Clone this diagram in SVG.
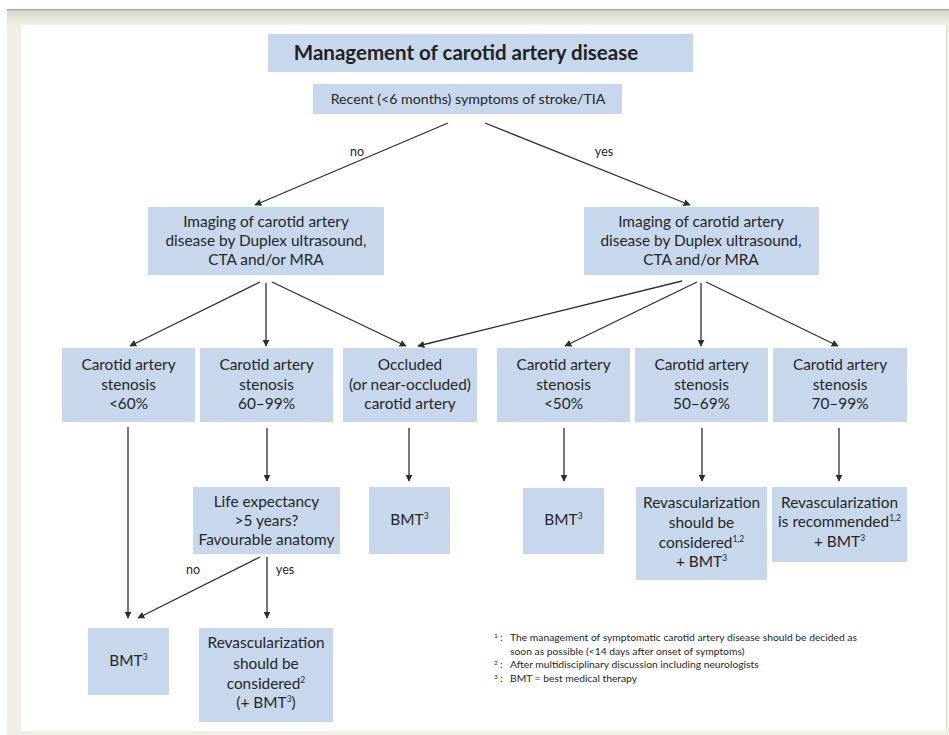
<svg xmlns="http://www.w3.org/2000/svg" width="949" height="735" viewBox="0 0 949 735">
  <defs>
    <marker id="arrow" viewBox="0 0 10 10" refX="9" refY="5" markerWidth="7" markerHeight="7" markerUnits="userSpaceOnUse" orient="auto">
      <path d="M0,0 L10,5 L0,10 z" fill="#2e2e2e"/>
    </marker>
    <linearGradient id="topShade" x1="0" y1="0" x2="0" y2="1">
      <stop offset="0" stop-color="#9c9c96"/>
      <stop offset="0.15" stop-color="#d8d8d0"/>
      <stop offset="1" stop-color="#f1f0e4"/>
    </linearGradient>
  </defs>
  <style>
    .box { fill: #c8d8ec; }
    .t { font-family: "Lato", "Liberation Sans", sans-serif; font-size: 15.4px; fill: #262626; text-anchor: middle; }
    .t14 { font-size: 14.2px; }
    .title { font-family: "Lato", "Liberation Sans", sans-serif; font-size: 20.5px; font-weight: bold; fill: #222; text-anchor: middle; }
    .lbl { font-family: "Lato", "Liberation Sans", sans-serif; font-size: 12.5px; fill: #262626; text-anchor: middle; }
    .fn { font-family: "Lato", "Liberation Sans", sans-serif; font-size: 10.3px; fill: #262626; }
    .sup { font-size: 8.5px; }
    .con line { stroke: #2e2e2e; stroke-width: 1.3; marker-end: url(#arrow); }
  </style>

  <!-- page frame -->
  <rect x="0" y="0" width="949" height="735" fill="#ffffff"/>
  <rect x="7" y="9" width="942" height="726" fill="#f1f0e4"/>
  <rect x="7" y="9" width="942" height="16" fill="url(#topShade)"/>
  <rect x="21" y="25" width="925" height="706" fill="#ffffff"/>
  <line x1="946.5" y1="25" x2="946.5" y2="731" stroke="#e2e1d6" stroke-width="1"/>

  <!-- nodes -->
  <g id="title">
    <rect class="box" x="268" y="34" width="425" height="38"/>
    <text class="title" x="466" y="60">Management of carotid artery disease</text>
  </g>
  <g id="recent">
    <rect class="box" x="313" y="84" width="309" height="30"/>
    <text class="t t14" x="468" y="104">Recent (&lt;6 months) symptoms of stroke/TIA</text>
  </g>
  <g id="imaging-no">
    <rect class="box" x="148" y="207" width="236" height="68"/>
    <text class="t" x="266" y="227">Imaging of carotid artery</text>
    <text class="t" x="266" y="246">disease by Duplex ultrasound,</text>
    <text class="t" x="266" y="265">CTA and/or MRA</text>
  </g>
  <g id="imaging-yes">
    <rect class="box" x="584" y="207" width="235" height="68"/>
    <text class="t" x="701" y="227">Imaging of carotid artery</text>
    <text class="t" x="701" y="246">disease by Duplex ultrasound,</text>
    <text class="t" x="701" y="265">CTA and/or MRA</text>
  </g>

  <g id="asym-lt60">
    <rect class="box" x="62" y="348" width="133" height="74"/>
    <text class="t" x="128.5" y="370">Carotid artery</text>
    <text class="t" x="128.5" y="390">stenosis</text>
    <text class="t" x="128.5" y="409">&lt;60%</text>
  </g>
  <g id="asym-60-99">
    <rect class="box" x="200" y="348" width="133" height="74"/>
    <text class="t" x="266.5" y="370">Carotid artery</text>
    <text class="t" x="266.5" y="390">stenosis</text>
    <text class="t" x="266.5" y="409">60–99%</text>
  </g>
  <g id="occluded">
    <rect class="box" x="343" y="348" width="134" height="74"/>
    <text class="t" x="410" y="370">Occluded</text>
    <text class="t" x="410" y="390">(or near-occluded)</text>
    <text class="t" x="410" y="409">carotid artery</text>
  </g>
  <g id="sym-lt50">
    <rect class="box" x="497" y="348" width="133" height="74"/>
    <text class="t" x="563.5" y="370">Carotid artery</text>
    <text class="t" x="563.5" y="390">stenosis</text>
    <text class="t" x="563.5" y="409">&lt;50%</text>
  </g>
  <g id="sym-50-69">
    <rect class="box" x="635" y="348" width="133" height="74"/>
    <text class="t" x="701.5" y="370">Carotid artery</text>
    <text class="t" x="701.5" y="390">stenosis</text>
    <text class="t" x="701.5" y="409">50–69%</text>
  </g>
  <g id="sym-70-99">
    <rect class="box" x="773" y="348" width="134" height="74"/>
    <text class="t" x="840" y="370">Carotid artery</text>
    <text class="t" x="840" y="390">stenosis</text>
    <text class="t" x="840" y="409">70–99%</text>
  </g>

  <g id="life-expectancy">
    <rect class="box" x="193" y="487" width="147" height="67"/>
    <text class="t" x="266.5" y="507">Life expectancy</text>
    <text class="t" x="266.5" y="526">&gt;5 years?</text>
    <text class="t" x="266.5" y="545">Favourable anatomy</text>
  </g>
  <g id="bmt-occluded">
    <rect class="box" x="369" y="487" width="81" height="67"/>
    <text class="t" x="409.5" y="525">BMT<tspan class="sup" dy="-6">3</tspan></text>
  </g>
  <g id="bmt-sym-lt50">
    <rect class="box" x="523" y="488" width="81" height="66"/>
    <text class="t" x="563.5" y="525">BMT<tspan class="sup" dy="-6">3</tspan></text>
  </g>
  <g id="revasc-sym-considered">
    <rect class="box" x="636" y="487" width="131" height="93"/>
    <text class="t" x="701.5" y="508">Revascularization</text>
    <text class="t" x="701.5" y="528">should be</text>
    <text class="t" x="701.5" y="548">considered<tspan class="sup" dy="-6">1,2</tspan></text>
    <text class="t" x="701.5" y="567">+ BMT<tspan class="sup" dy="-6">3</tspan></text>
  </g>
  <g id="revasc-sym-recommended">
    <rect class="box" x="772" y="487" width="135" height="75"/>
    <text class="t" x="839.5" y="508">Revascularization</text>
    <text class="t" x="839.5" y="527">is recommended<tspan class="sup" dy="-6">1,2</tspan></text>
    <text class="t" x="839.5" y="547">+ BMT<tspan class="sup" dy="-6">3</tspan></text>
  </g>
  <g id="bmt-asym">
    <rect class="box" x="88" y="628" width="81" height="67"/>
    <text class="t" x="128.5" y="666">BMT<tspan class="sup" dy="-6">3</tspan></text>
  </g>
  <g id="revasc-asym">
    <rect class="box" x="199" y="628" width="134" height="94"/>
    <text class="t" x="266" y="648">Revascularization</text>
    <text class="t" x="266" y="669">should be</text>
    <text class="t" x="266" y="689">considered<tspan class="sup" dy="-6">2</tspan></text>
    <text class="t" x="266" y="708">(+ BMT<tspan class="sup" dy="-6">3</tspan><tspan dy="6">)</tspan></text>
  </g>

  <!-- connectors -->
  <g id="connectors" class="con">
    <line x1="448" y1="123" x2="255" y2="205"/>
    <line x1="485" y1="123" x2="690" y2="205"/>
    <line x1="260" y1="282" x2="130" y2="346"/>
    <line x1="266" y1="283" x2="266" y2="346"/>
    <line x1="272" y1="282" x2="406" y2="346"/>
    <line x1="682" y1="281" x2="418" y2="346"/>
    <line x1="697" y1="282" x2="565" y2="346"/>
    <line x1="701" y1="283" x2="701" y2="346"/>
    <line x1="706" y1="282" x2="838" y2="346"/>
    <line x1="128" y1="427" x2="128" y2="618"/>
    <line x1="267" y1="428" x2="267" y2="481"/>
    <line x1="409" y1="428" x2="409" y2="481"/>
    <line x1="564" y1="428" x2="564" y2="481"/>
    <line x1="702" y1="428" x2="702" y2="481"/>
    <line x1="839" y1="428" x2="839" y2="481"/>
    <line x1="260" y1="557" x2="138" y2="618"/>
    <line x1="267" y1="557" x2="267" y2="618"/>
  </g>

  <!-- branch labels -->
  <text class="lbl" x="357" y="156">no</text>
  <text class="lbl" x="604" y="156">yes</text>
  <text class="lbl" x="193" y="574">no</text>
  <text class="lbl" x="285" y="574">yes</text>

  <!-- footnotes -->
  <g id="footnotes" class="fn">
    <text x="494" y="638"><tspan font-size="6.5">1</tspan><tspan x="500" y="641">:</tspan><tspan x="510" y="641">The management of symptomatic carotid artery disease should be decided as</tspan></text>
    <text x="510" y="655">soon as possible (&lt;14 days after onset of symptoms)</text>
    <text x="494" y="665"><tspan font-size="6.5">2</tspan><tspan x="500" y="668">:</tspan><tspan x="510" y="668">After multidisciplinary discussion including neurologists</tspan></text>
    <text x="494" y="679"><tspan font-size="6.5">3</tspan><tspan x="500" y="682">:</tspan><tspan x="510" y="682">BMT = best medical therapy</tspan></text>
  </g>
</svg>
